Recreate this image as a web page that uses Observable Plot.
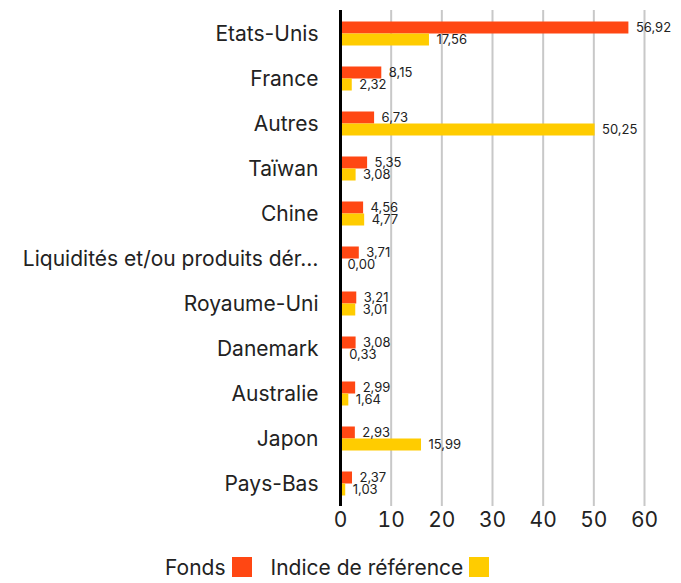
<!DOCTYPE html>
<html>
<head>
<meta charset="utf-8">
<script src="https://cdn.jsdelivr.net/npm/d3@7"></script>
<script src="https://cdn.jsdelivr.net/npm/@observablehq/plot@0.6"></script>
<style>
  body { margin: 0; background: #fff; font-family: Inter, "Noto Sans", sans-serif; color: #222; }
  #legend { display: flex; align-items: center; margin-top: 16px; padding-left: 165px; font-size: 21px; height: 22px; }
  #legend .sw { width: 20px; height: 20px; display: inline-block; margin-left: 6px; }
  #legend .item { display: flex; align-items: center; margin-right: 19px; }
</style>
</head>
<body>
<div id="chart"></div>
<div id="legend"></div>
<script>
const categories = ["Etats-Unis", "France", "Autres", "Taïwan", "Chine", "Liquidités et/ou produits dér…", "Royaume-Uni", "Danemark", "Australie", "Japon", "Pays-Bas"];
const fonds = [56.92, 8.15, 6.73, 5.35, 4.56, 3.71, 3.21, 3.08, 2.99, 2.93, 2.37];
const indice = [17.56, 2.32, 50.25, 3.08, 4.77, 0.00, 3.01, 0.33, 1.64, 15.99, 1.03];
const xTicks = [0, 10, 20, 30, 40, 50, 60];
const seriesNames = ["Fonds", "Indice de référence"];
const seriesColors = ["#ff4713", "#ffcc00"];

const rowsF = categories.map((c, i) => ({category: c, value: fonds[i]}));
const rowsI = categories.map((c, i) => ({category: c, value: indice[i]}));
const fmt = v => v.toFixed(2).replace(".", ",");

const chart = Plot.plot({
  width: 681,
  height: 540,
  marginLeft: 340,
  marginRight: 37,
  marginTop: 10,
  marginBottom: 34,
  style: {fontFamily: "Inter, 'Noto Sans', sans-serif", color: "#222", background: "#fff"},
  x: {domain: [0, 60], ticks: xTicks},
  y: {domain: categories, padding: 0},
  marks: [
    Plot.ruleX(xTicks.filter(d => d > 0), {stroke: "#c8c8c8", strokeWidth: 2}),
    Plot.barX(rowsF, {x: "value", y: "category", fill: seriesColors[0], insetTop: 10.5, insetBottom: 22.5}),
    Plot.barX(rowsI, {x: "value", y: "category", fill: seriesColors[1], insetTop: 22.5, insetBottom: 10.5}),
    Plot.ruleX([0], {stroke: "#000", strokeWidth: 3}),
    Plot.text(rowsF, {x: "value", y: "category", text: d => fmt(d.value), dx: 7, dy: -6, textAnchor: "start", fontSize: 13, fill: "#222"}),
    Plot.text(rowsI, {x: "value", y: "category", text: d => fmt(d.value), dx: 7, dy: 6, textAnchor: "start", fontSize: 13, fill: "#222"}),
    Plot.axisX({ticks: xTicks, tickSize: 0, tickPadding: 6, fontSize: 21, label: null}),
    Plot.axisY({tickSize: 0, tickPadding: 22, fontSize: 21, label: null})
  ]
});
document.getElementById("chart").appendChild(chart);

const legend = document.getElementById("legend");
seriesNames.forEach((n, i) => {
  const item = document.createElement("span");
  item.className = "item";
  item.innerHTML = `<span>${n}</span><span class="sw" style="background:${seriesColors[i]}"></span>`;
  legend.appendChild(item);
});
</script>
</body>
</html>
